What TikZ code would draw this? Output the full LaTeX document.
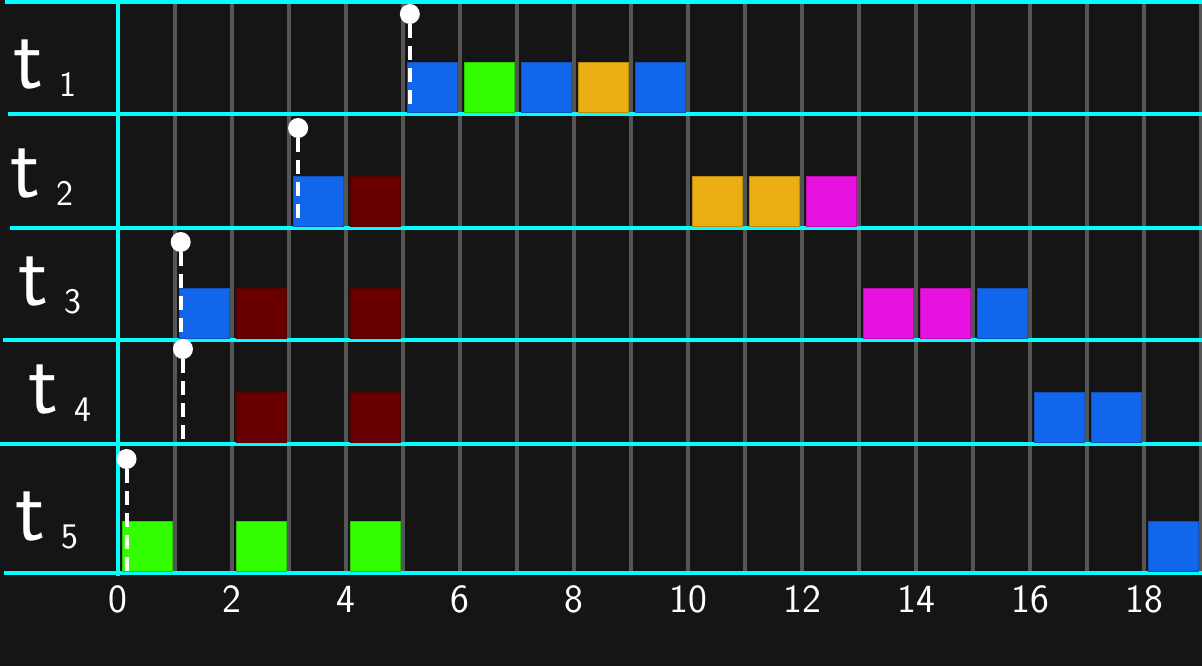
\documentclass[tikz,border=0pt]{standalone}
\usepackage{tikz}
\usepackage{xcolor}
\definecolor{schedbg}{RGB}{21, 21, 21}
\definecolor{schedcyan}{RGB}{0, 255, 255}
\definecolor{schedgrid}{RGB}{85, 85, 85}
\definecolor{schedblue}{RGB}{18, 102, 235}
\definecolor{schedgreen}{RGB}{51, 255, 0}
\definecolor{schedorange}{RGB}{234, 174, 18}
\definecolor{schedred}{RGB}{104, 0, 0}
\definecolor{schedpink}{RGB}{232, 18, 224}
\usetikzlibrary{calc,positioning}

\begin{document}
\begin{tikzpicture}[x=0.5pt, y=-0.5pt,
    rowline/.style={schedcyan, line width=2.3pt},
    gridline/.style={schedgrid, line width=1.8pt},
    pinhead/.style={circle, fill=white, inner sep=0pt, minimum size=10pt},
    pinline/.style={white, line width=2pt, dash pattern=on 7pt off 4pt},
    tasklbl/.style={white, anchor=base west, inner sep=0pt, font=\sffamily\fontsize{44}{44}\selectfont},
    ticklbl/.style={white, inner sep=0pt, font=\sffamily\fontsize{20}{20}\selectfont}]
    \useasboundingbox (0,0) rectangle (1202,666);
    \fill[schedbg] (0,0) rectangle (1202,666);

    \begin{scope}[xshift=59pt, x=28.5pt]
        % Time grid
        \foreach \t in {1,...,19} {
            \draw[gridline] (\t, 0) -- (\t, 572);
        }
    \end{scope}

    % Task rows
    \foreach \y/\x in {2/5, 114/8, 228/10, 340/3, 444/0, 573/4} {
        \draw[rowline] (\x, \y) -- (1202, \y);
    }
    \draw[rowline] (118, 0) -- (118, 576);

    \begin{scope}[xshift=59pt, x=28.5pt]
        % Time slots per task
        \foreach \b/\slots in {112/{5/schedblue, 6/schedgreen, 7/schedblue, 8/schedorange, 9/schedblue},
                               226/{3/schedblue, 4/schedred, 10/schedorange, 11/schedorange, 12/schedpink},
                               338/{1/schedblue, 2/schedred, 4/schedred, 13/schedpink, 14/schedpink, 15/schedblue},
                               442/{2/schedred, 4/schedred, 16/schedblue, 17/schedblue},
                               571/{0/schedgreen, 2/schedgreen, 4/schedgreen, 18/schedblue}} {
            \foreach \t/\col in \slots {
                \fill[\col, draw=\col!80!black, line width=0.4pt] (\t+0.07, \b) rectangle (\t+0.96, \b-50);
            }
        }

        % Arrival markers
        \foreach \i/\x/\top/\bot in {1/5.12/14/112, 2/3.16/128/226, 3/1.1/242/338, 4/1.14/349/442, 5/0.15/459/573} {
            \node[pinhead] (pin\i) at (\x, \top) {};
            \coordinate (foot\i) at (\x, \bot);
            \draw[pinline] (pin\i) -- (foot\i);
        }

        % Time axis
        \foreach \v in {0,2,...,18} {
            \node[ticklbl] (tick\v) at (\v, 599) {\v};
        }
    \end{scope}

    % Task labels
    \foreach \i/\x/\y in {1/13/88, 2/10/197, 3/18/305, 4/28/413, 5/15/540} {
        \node[tasklbl] (task\i) at (\x, \y) {t\hspace{8pt}\raisebox{-4pt}{\fontsize{18}{18}\selectfont\i}};
    }
\end{tikzpicture}
\end{document}
